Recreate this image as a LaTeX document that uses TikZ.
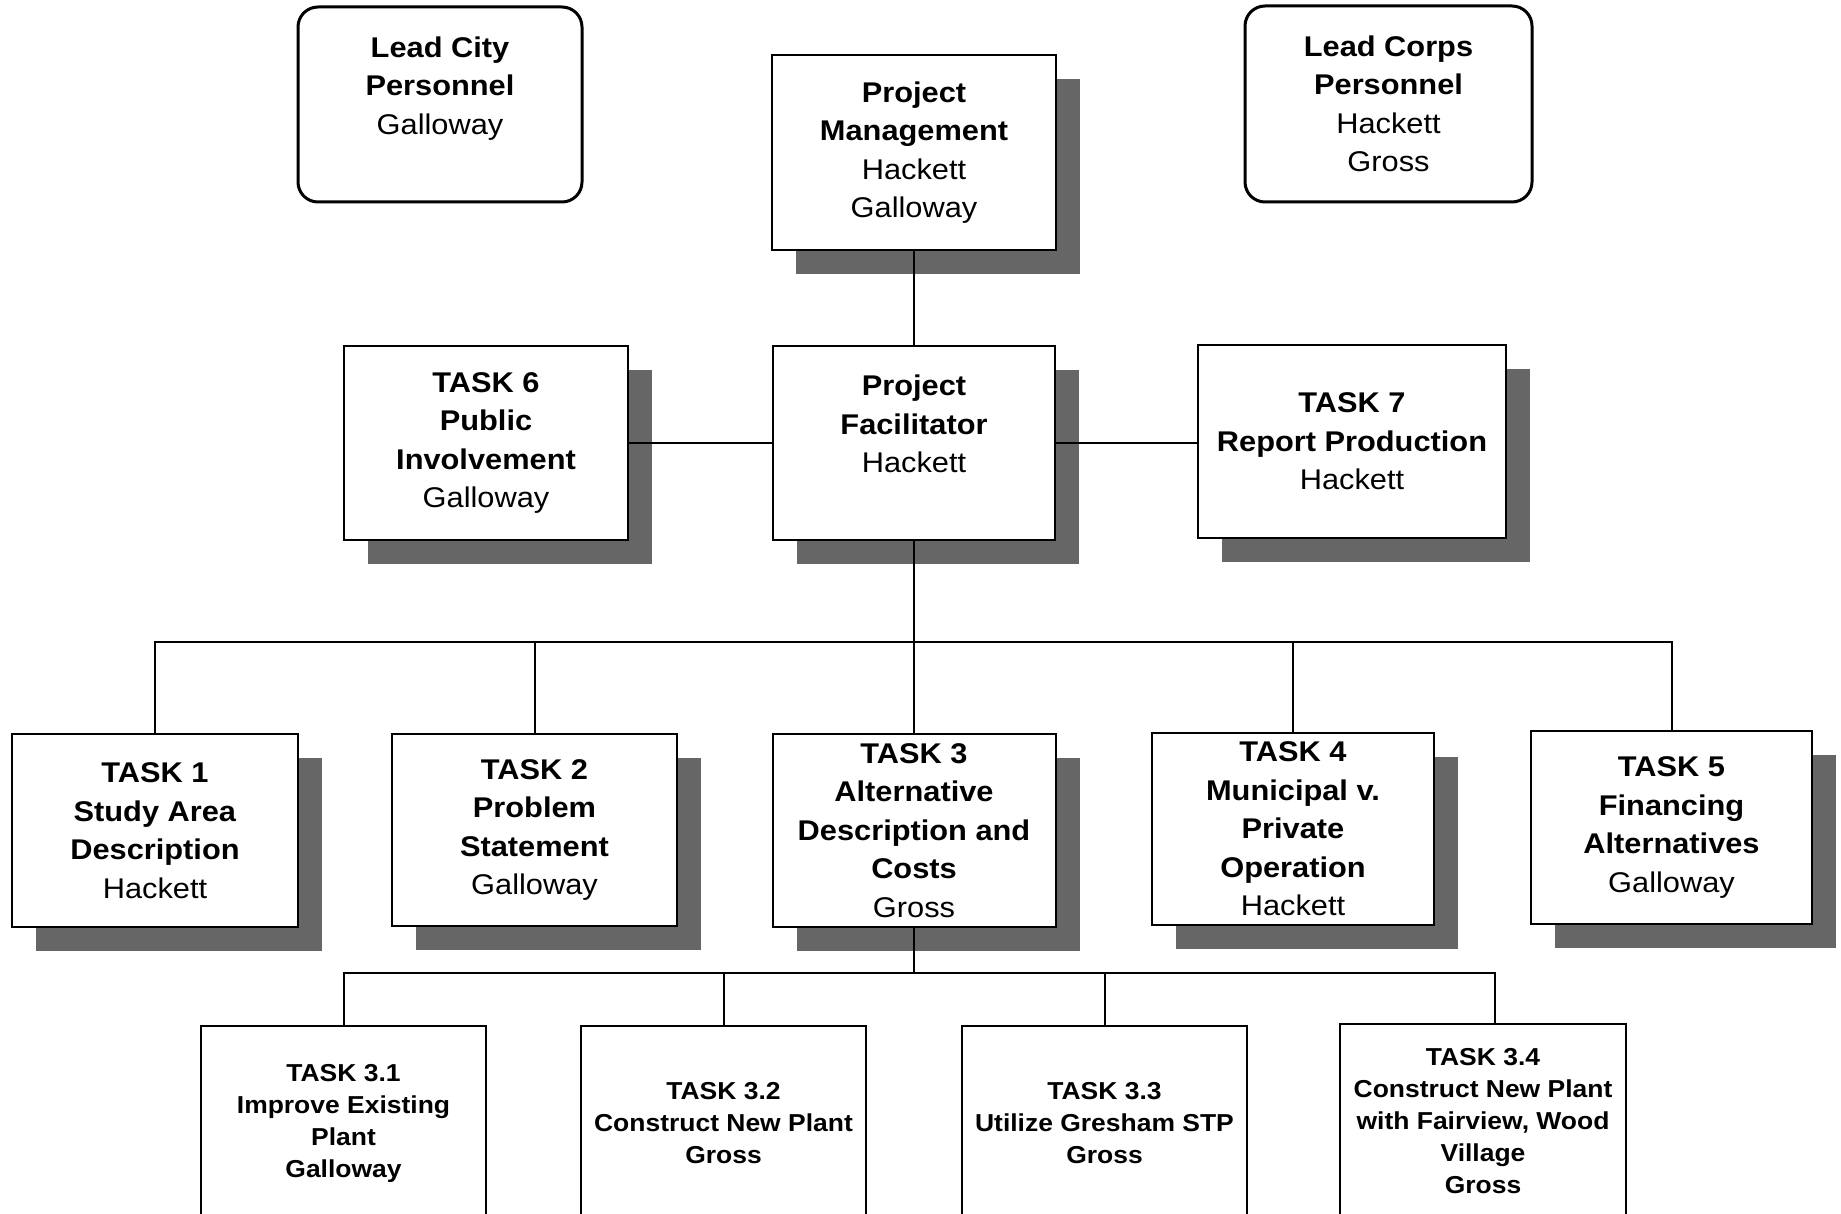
\documentclass[tikz,border=0pt]{standalone}
\usepackage{fontspec}
\setmainfont{Liberation Sans}[FakeStretch=1.08]
\usetikzlibrary{shadows}
\begin{document}
\begin{tikzpicture}[x=1pt,y=-1pt,
  base/.style={draw, line width=2pt, fill=white, align=center, inner sep=0pt,
    font=\fontsize{28.5}{38.5}\selectfont},
  lead/.style={base, line width=3pt, rounded corners=20pt},
  task/.style={base, general shadow={fill=black!60, shadow xshift=24pt, shadow yshift=-24pt}},
  sub/.style={base, minimum width=285pt, minimum height=194pt,
    font=\fontsize{24.5}{32}\selectfont\bfseries},
  link/.style={line width=2pt}]
\clip (0,0) rectangle (1841,1214);
\fill[white] (0,0) rectangle (1841,1214);

% top row
\node[lead, minimum width=284pt, minimum height=195pt] (leadcity) at (440,104.5)
  {\textbf{Lead City}\\\textbf{Personnel}\\Galloway\\\mbox{}};
\node[lead, minimum width=287pt, minimum height=196pt] (leadcorps) at (1388.5,104)
  {\textbf{Lead Corps}\\\textbf{Personnel}\\Hackett\\Gross};
\node[task, minimum width=284pt, minimum height=195pt] (pm) at (914,152.5)
  {\textbf{Project}\\\textbf{Management}\\Hackett\\Galloway};

% second row
\node[task, minimum width=282pt, minimum height=194pt] (fac) at (914,443)
  {\textbf{Project}\\\textbf{Facilitator}\\Hackett\\\mbox{}};
\node[task, minimum width=284pt, minimum height=194pt] (t6) at (486,443)
  {\textbf{TASK 6}\\\textbf{Public}\\\textbf{Involvement}\\Galloway};
\node[task, minimum width=308pt, minimum height=193pt] (t7) at (1352,441.5)
  {\textbf{TASK 7}\\\textbf{Report Production}\\Hackett};

% third row
\node[task, minimum width=286pt, minimum height=193pt] (t1) at (155,830.5)
  {\textbf{TASK 1}\\\textbf{Study Area}\\\textbf{Description}\\Hackett};
\node[task, minimum width=285pt, minimum height=192pt] (t2) at (534.5,830)
  {\textbf{TASK 2}\\\textbf{Problem}\\\textbf{Statement}\\Galloway};
\node[task, minimum width=283pt, minimum height=193pt] (t3) at (914,830.5)
  {\textbf{TASK 3}\\\textbf{Alternative}\\\textbf{Description and}\\\textbf{Costs}\\Gross};
\node[task, minimum width=282pt, minimum height=192pt] (t4) at (1293,829)
  {\textbf{TASK 4}\\\textbf{Municipal v.}\\\textbf{Private}\\\textbf{Operation}\\Hackett};
\node[task, minimum width=281pt, minimum height=193pt] (t5) at (1671.5,827.5)
  {\textbf{TASK 5}\\\textbf{Financing}\\\textbf{Alternatives}\\Galloway};

% bottom row
\node[sub] (t31) at (343.5,1123) {TASK 3.1\\Improve Existing\\Plant\\Galloway};
\node[sub] (t32) at (723.5,1123) {TASK 3.2\\Construct New Plant\\Gross};
\node[sub] (t33) at (1104.5,1123) {TASK 3.3\\Utilize Gresham STP\\Gross};
\node[sub, minimum width=286pt] (t34) at (1483,1121) {TASK 3.4\\Construct New Plant\\with Fairview, Wood\\Village\\Gross};

% connectors
\coordinate (b1) at (914,642);
\coordinate (b2) at (914,973);
\coordinate (c34) at (1495,1024);
\draw[link] (pm.south) -- (fac.north);
\draw[link] (fac.west) -- (t6.east);
\draw[link] (fac.east) -- (fac.east -| t7.west);
\draw[link] (fac.south) -- (t3.north);
\draw[link] (t1.north) |- (b1) -| (t5.north);
\draw[link] (t2.north) -- (t2.north |- b1);
\draw[link] (t4.north) -- (t4.north |- b1);
\draw[link] (t3.south) -- (b2);
\draw[link] (t31.north) |- (b2) -| (c34);
\draw[link] (t32.north) -- (t32.north |- b2);
\draw[link] (t33.north) -- (t33.north |- b2);
\end{tikzpicture}
\end{document}
